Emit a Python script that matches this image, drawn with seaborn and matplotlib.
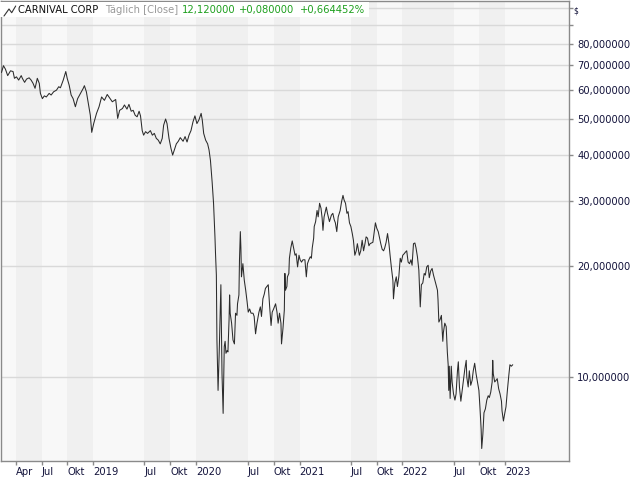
import pandas as pd
import seaborn as sns
import matplotlib.pyplot as plt
from matplotlib.patches import Rectangle
from matplotlib.lines import Line2D
from matplotlib.ticker import FixedLocator, FuncFormatter, NullLocator

# Close prices, split by year

dates_2018 = ['2018-02-09', '2018-02-16', '2018-02-23', '2018-03-03', '2018-03-13', '2018-03-22',
              '2018-03-27', '2018-04-03', '2018-04-11', '2018-04-20', '2018-04-24', '2018-05-02',
              '2018-05-09', '2018-05-18', '2018-05-25', '2018-06-01', '2018-06-08', '2018-06-16',
              '2018-06-23', '2018-06-27', '2018-07-04', '2018-07-11', '2018-07-18', '2018-07-28',
              '2018-08-04', '2018-08-13', '2018-08-23', '2018-08-31', '2018-09-06', '2018-09-16',
              '2018-09-25', '2018-09-30', '2018-10-07', '2018-10-14', '2018-10-21', '2018-10-29',
              '2018-11-06', '2018-11-16', '2018-11-26', '2018-11-30', '2018-12-07', '2018-12-14',
              '2018-12-21', '2018-12-26']
prices_2018 = [67.0, 69.9, 68.4, 65.7, 67.7, 67.4, 64.6, 65.2, 63.9, 65.7, 64.6, 63.0,
               64.3, 64.8, 63.9, 62.6, 60.7, 64.6, 62.6, 58.8, 56.9, 57.9, 57.5, 58.8,
               58.2, 59.4, 60.0, 61.3, 60.9, 63.9, 67.4, 64.6, 61.9, 58.2, 56.9, 54.1,
               56.9, 58.8, 60.7, 61.7, 59.4, 55.2, 51.3, 46.1]

dates_2019 = ['2019-01-02', '2019-01-12', '2019-01-21', '2019-01-30', '2019-02-09', '2019-02-19',
              '2019-02-28', '2019-03-09', '2019-03-21', '2019-03-28', '2019-04-04', '2019-04-14',
              '2019-04-21', '2019-04-30', '2019-05-07', '2019-05-15', '2019-05-22', '2019-05-29',
              '2019-06-05', '2019-06-12', '2019-06-17', '2019-06-23', '2019-06-28', '2019-07-05',
              '2019-07-12', '2019-07-22', '2019-07-29', '2019-08-05', '2019-08-12', '2019-08-19',
              '2019-08-26', '2019-09-02', '2019-09-07', '2019-09-14', '2019-09-19', '2019-09-26',
              '2019-10-03', '2019-10-09', '2019-10-15', '2019-10-22', '2019-10-29', '2019-11-05',
              '2019-11-15', '2019-11-22', '2019-11-29', '2019-12-06', '2019-12-13', '2019-12-20',
              '2019-12-27']
prices_2019 = [48.7, 51.9, 54.1, 57.5, 56.3, 58.4, 57.1, 55.8, 56.6, 50.3, 52.9, 53.5,
               54.7, 53.3, 54.9, 52.6, 52.9, 51.3, 50.8, 52.6, 51.1, 46.6, 45.3, 46.3,
               45.8, 46.6, 45.3, 45.8, 44.4, 43.9, 42.9, 44.4, 48.2, 50.1, 48.7, 44.4,
               41.7, 40.0, 41.3, 42.9, 43.6, 44.6, 43.6, 44.9, 43.4, 45.3, 46.6, 49.2,
               51.1]

dates_2020 = ['2020-01-03', '2020-01-10', '2020-01-18', '2020-01-22', '2020-01-27', '2020-02-03',
              '2020-02-10', '2020-02-15', '2020-02-20', '2020-02-26', '2020-03-02', '2020-03-07',
              '2020-03-09', '2020-03-12', '2020-03-14', '2020-03-18', '2020-03-22', '2020-03-26',
              '2020-03-28', '2020-04-01', '2020-04-05', '2020-04-07', '2020-04-09', '2020-04-12',
              '2020-04-15', '2020-04-19', '2020-04-22', '2020-04-26', '2020-04-28', '2020-04-30',
              '2020-05-05', '2020-05-10', '2020-05-15', '2020-05-19', '2020-05-24', '2020-05-26',
              '2020-05-31', '2020-06-02', '2020-06-05', '2020-06-07', '2020-06-09', '2020-06-14',
              '2020-06-19', '2020-06-24', '2020-06-29', '2020-07-03', '2020-07-08', '2020-07-13',
              '2020-07-20', '2020-07-24', '2020-07-29', '2020-08-03', '2020-08-10', '2020-08-15',
              '2020-08-19', '2020-08-24', '2020-08-29', '2020-09-02', '2020-09-07', '2020-09-12',
              '2020-09-17', '2020-09-22', '2020-09-26', '2020-10-01', '2020-10-08', '2020-10-13',
              '2020-10-17', '2020-10-22', '2020-10-27', '2020-10-29', '2020-11-03', '2020-11-08',
              '2020-11-10', '2020-11-12', '2020-11-17', '2020-11-19', '2020-11-24', '2020-11-26',
              '2020-12-01', '2020-12-06', '2020-12-11', '2020-12-16', '2020-12-20', '2020-12-25',
              '2020-12-30']
prices_2020 = [48.7, 49.8, 51.9, 49.8, 45.8, 43.9, 42.9, 41.3, 38.7, 33.8,
               29.6, 24.0, 21.6, 18.9, 12.6, 9.2, 11.6, 15.5, 17.8,
               10.2, 7.97, 9.8, 12.1, 12.5, 11.6, 11.8, 11.7, 14.3, 16.7, 14.9,
               14.0, 12.6, 12.3, 14.9, 14.7, 15.8, 16.7,
               20.8, 24.8, 22.4, 18.7, 20.3, 18.3, 17.2, 16.0,
               15.0, 15.3, 14.9, 14.9, 14.6, 13.1,
               14.0, 15.0, 15.5, 14.6, 16.3, 16.8,
               17.4, 17.6, 17.8, 15.5, 13.8, 15.0,
               15.3, 15.8, 15.0, 14.0, 14.9, 14.0, 12.3,
               13.5, 15.2, 19.1, 17.2, 17.6, 18.7, 19.1, 21.0,
               22.4, 23.4, 22.4, 21.4, 21.6, 19.9, 21.4]

dates_2021 = ['2021-01-03', '2021-01-08', '2021-01-13', '2021-01-20', '2021-01-25', '2021-01-29',
              '2021-02-03', '2021-02-08', '2021-02-12', '2021-02-15', '2021-02-20', '2021-02-22',
              '2021-02-27', '2021-03-04', '2021-03-08', '2021-03-13', '2021-03-18', '2021-03-22',
              '2021-03-25', '2021-03-29', '2021-04-06', '2021-04-10', '2021-04-17', '2021-04-24',
              '2021-04-29', '2021-05-04', '2021-05-08', '2021-05-13', '2021-05-18', '2021-05-25',
              '2021-05-30', '2021-06-04', '2021-06-08', '2021-06-13', '2021-06-18', '2021-06-22',
              '2021-06-27', '2021-07-02', '2021-07-07', '2021-07-11', '2021-07-16', '2021-07-21',
              '2021-07-25', '2021-08-01', '2021-08-06', '2021-08-11', '2021-08-16', '2021-08-21',
              '2021-08-25', '2021-08-30', '2021-09-04', '2021-09-08', '2021-09-18', '2021-09-27',
              '2021-10-02', '2021-10-07', '2021-10-11', '2021-10-16', '2021-10-21', '2021-10-26',
              '2021-10-30', '2021-11-04', '2021-11-09', '2021-11-14', '2021-11-18', '2021-11-23',
              '2021-11-28', '2021-11-30', '2021-12-05', '2021-12-10', '2021-12-14', '2021-12-19',
              '2021-12-24', '2021-12-28']
prices_2021 = [20.8, 20.5, 20.8, 20.8, 18.7, 20.3,
               20.8, 21.2, 21.0, 22.4, 23.8, 25.6, 26.4,
               28.3, 27.2, 29.6, 28.7, 27.0, 25.0, 27.2,
               28.9, 27.8, 26.4, 27.5, 27.8,
               26.7, 26.2, 24.8, 27.2, 28.3, 29.9,
               31.1, 30.2, 29.6, 27.8, 28.1, 26.2,
               25.6, 24.5, 23.5, 21.4, 22.0, 23.0,
               21.4, 22.0, 23.5, 22.0, 23.0, 24.0, 23.8,
               22.7, 23.0, 23.2, 26.2,
               25.3, 24.8, 24.0, 23.0, 22.2, 22.0, 22.4,
               23.2, 24.5, 23.0, 21.4, 19.7, 18.3, 16.3,
               18.0, 18.7, 17.6, 18.7, 21.0, 20.5]

dates_2022 = ['2022-01-02', '2022-01-07', '2022-01-11', '2022-01-16', '2022-01-21', '2022-01-26',
              '2022-01-31', '2022-02-04', '2022-02-09', '2022-02-14', '2022-02-18', '2022-02-23',
              '2022-02-28', '2022-03-02', '2022-03-05', '2022-03-09', '2022-03-14', '2022-03-19',
              '2022-03-23', '2022-03-28', '2022-04-02', '2022-04-06', '2022-04-11', '2022-04-16',
              '2022-04-21', '2022-04-26', '2022-04-30', '2022-05-05', '2022-05-07', '2022-05-10',
              '2022-05-14', '2022-05-19', '2022-05-21', '2022-05-24', '2022-05-26', '2022-05-31',
              '2022-06-05', '2022-06-07', '2022-06-09', '2022-06-12', '2022-06-14', '2022-06-16',
              '2022-06-19', '2022-06-21', '2022-06-23', '2022-06-26', '2022-07-01', '2022-07-06',
              '2022-07-10', '2022-07-15', '2022-07-18', '2022-07-22', '2022-07-27', '2022-07-31',
              '2022-08-05', '2022-08-10', '2022-08-15', '2022-08-17', '2022-08-22', '2022-08-26',
              '2022-08-31', '2022-09-05', '2022-09-09', '2022-09-14', '2022-09-19', '2022-09-24',
              '2022-09-29', '2022-10-03', '2022-10-07', '2022-10-09', '2022-10-13', '2022-10-17',
              '2022-10-22', '2022-10-27', '2022-11-01', '2022-11-05', '2022-11-10', '2022-11-15',
              '2022-11-17', '2022-11-19', '2022-11-24', '2022-11-29', '2022-12-03', '2022-12-08',
              '2022-12-13', '2022-12-18', '2022-12-20', '2022-12-25', '2022-12-30']
prices_2022 = [21.4, 21.6, 21.8, 22.0, 20.5, 20.3, 20.8,
               20.1, 23.0, 23.1, 22.4, 21.2, 19.5,
               17.8, 15.5, 17.8, 18.0, 19.1, 18.9, 19.9,
               20.1, 18.6, 19.4, 19.7, 18.9, 18.3, 17.8,
               17.2, 16.2, 14.1, 14.3, 14.7, 13.7, 12.5, 13.2, 14.0,
               13.7, 12.6, 11.7, 10.8, 9.2, 10.7, 8.75, 9.7, 10.7, 9.7,
               9.0, 8.66, 9.0, 10.4, 11.0, 9.4, 8.6, 9.1,
               9.8, 10.5, 11.1, 10.0, 9.4, 10.4, 9.5,
               9.8, 10.4, 10.9, 10.2, 9.7, 9.2,
               8.2, 7.2, 6.4, 7.0, 8.0, 8.2, 8.66,
               8.9, 8.8, 9.1, 9.7, 11.1, 10.2, 9.7, 9.8,
               9.9, 9.3, 9.0, 8.6, 8.1, 7.6, 8.0]

dates_2023 = ['2023-01-03', '2023-01-08', '2023-01-13', '2023-01-17', '2023-01-22', '2023-01-27']
prices_2023 = [8.3, 9.2, 10.1, 10.8, 10.7, 10.8]

tick_dates = ['2018-04-01', '2018-07-01', '2018-10-01', '2019-01-01', '2019-07-01', '2019-10-01',
              '2020-01-01', '2020-07-01', '2020-10-01', '2021-01-01', '2021-07-01', '2021-10-01',
              '2022-01-01', '2022-07-01', '2022-10-01', '2023-01-01']
tick_labels = ['Apr', 'Jul', 'Okt', '2019', 'Jul', 'Okt', '2020', 'Jul', 'Okt', '2021',
               'Jul', 'Okt', '2022', 'Jul', 'Okt', '2023']
price_levels = [10, 20, 30, 40, 50, 60, 70, 80, 90, 100]

x_start = pd.Timestamp('2018-02-05 12:00')
x_end = pd.Timestamp('2023-08-14 12:00')

# Styling
sns.set_theme(style='white')
plt.rcParams['font.family'] = ['DejaVu Sans']
label_color = '#14143c'
green = '#1fa01f'

df = pd.DataFrame({
    'Datum': pd.to_datetime(dates_2018 + dates_2019 + dates_2020 + dates_2021 + dates_2022 + dates_2023),
    'Close': prices_2018 + prices_2019 + prices_2020 + prices_2021 + prices_2022 + prices_2023,
})

fig = plt.figure(figsize=(6.4, 4.8), dpi=100)
fig.patch.set_facecolor('white')
ax = fig.add_axes([0.5 / 640, 19 / 480, 568.5 / 640, 460 / 480])
ax.set_facecolor('#f8f8f8')

sns.lineplot(data=df, x='Datum', y='Close', ax=ax, color='#2b2b2b', linewidth=0.75, zorder=4)
ax.set_yscale('log')
ax.set_xlim(x_start, x_end)
ax.set_ylim(5.92, 104.7)

# alternating shaded bands between the labelled ticks
bounds = [x_start] + [pd.Timestamp(d) for d in tick_dates] + [x_end]
for i in range(len(bounds) - 1):
    if i % 2 == 1:
        ax.axvspan(bounds[i], bounds[i + 1], color='#f0f0f0', lw=0, zorder=0.2)

ax.yaxis.tick_right()
ax.yaxis.set_major_locator(FixedLocator(price_levels))
ax.yaxis.set_minor_locator(NullLocator())
ax.yaxis.set_major_formatter(FuncFormatter(
    lambda v, pos: f'{v:.6f}'.replace('.', ',') if v <= 80 else ''))
ax.grid(axis='y', color='#d9d9d9', linewidth=1, zorder=0.5)
ax.grid(axis='x', visible=False)
ax.set_axisbelow(True)

ax.set_xticks(pd.to_datetime(tick_dates))
ax.set_xticklabels(tick_labels)
for lbl in ax.get_xticklabels():
    lbl.set_horizontalalignment('left')

ax.tick_params(axis='y', which='major', direction='out', length=3, width=1, color='#8a8a8a',
               pad=3, labelsize=7.2, labelcolor=label_color, right=True, left=False)
ax.tick_params(axis='x', which='major', direction='out', length=3, width=1, color='#8a8a8a',
               pad=1.5, labelsize=7.2, labelcolor=label_color, bottom=True)
ax.set_xlabel('')
ax.set_ylabel('')

for sp in ax.spines.values():
    sp.set_color('#8a8a8a')
    sp.set_linewidth(1)

# header box
ax.add_patch(Rectangle((0, 1 - 17 / 480), 369 / 640, 15 / 480, transform=fig.transFigure,
                       facecolor='white', edgecolor='none', zorder=6, clip_on=False))
fig.add_artist(Line2D([4 / 640, 9 / 640, 11.7 / 640, 15.7 / 640],
                      [1 - 16 / 480, 1 - 9 / 480, 1 - 12.7 / 480, 1 - 6 / 480],
                      color='#333333', linewidth=0.8, transform=fig.transFigure, zorder=7))

hy = 1 - 10 / 480
fig.text(18 / 640, hy, 'CARNIVAL CORP', fontsize=7.2, color='#111111', va='center', zorder=7)
fig.text(105 / 640, hy, 'Täglich [Close]', fontsize=7.2, color='#9a9a9a', va='center', zorder=7)
fig.text(182 / 640, hy, '12,120000', fontsize=7.2, color=green, va='center', zorder=7)
fig.text(239 / 640, hy, '+0,080000', fontsize=7.2, color=green, va='center', zorder=7)
fig.text(300 / 640, hy, '+0,664452%', fontsize=7.2, color=green, va='center', zorder=7)
fig.text(573 / 640, 1 - 11 / 480, '$', fontsize=5.5, color=label_color, va='center')

fig.savefig('out.png', dpi=100)
